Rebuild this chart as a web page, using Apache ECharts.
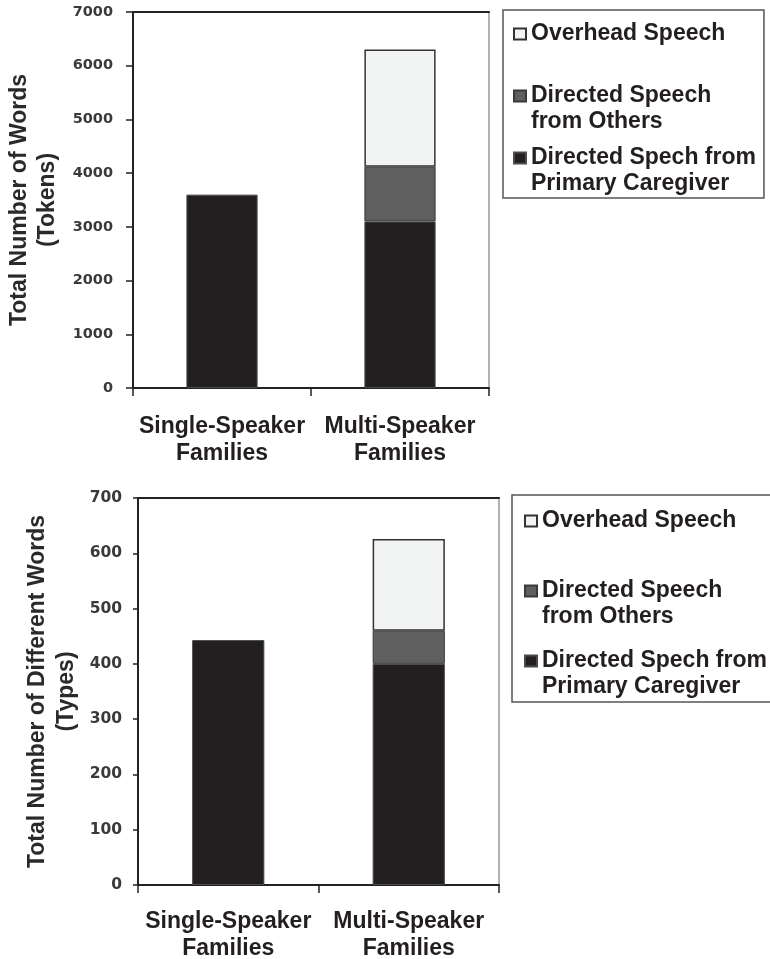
<!DOCTYPE html>
<html>
<head>
<meta charset="utf-8">
<script src="https://cdn.jsdelivr.net/npm/echarts@6/dist/echarts.min.js"></script>
<style>
  html, body { margin: 0; padding: 0; background: #ffffff; }
  #chart { width: 770px; height: 959px; }
</style>
</head>
<body>
<div id="chart"></div>
<script>
// ---------- data ----------
const categories = ['Single-Speaker\nFamilies', 'Multi-Speaker\nFamilies'];
const seriesNames = ['Directed Spech from Primary Caregiver', 'Directed Speech from Others', 'Overhead Speech'];
const legendLabels = {
  'Overhead Speech': 'Overhead Speech\n ',
  'Directed Speech from Others': 'Directed Speech\nfrom Others',
  'Directed Spech from Primary Caregiver': 'Directed Spech from\nPrimary Caregiver'
};
const legendOrder = ['Overhead Speech', 'Directed Speech from Others', 'Directed Spech from Primary Caregiver'];

// Chart 1: tokens
const tokensPrimary  = [3600, 3100];
const tokensOthers   = [null, 1020];
const tokensOverhead = [null, 2180];
const tokensMax = 7000, tokensStep = 1000;
const tokensTitle = 'Total Number of Words\n(Tokens)';

// Chart 2: types
const typesPrimary  = [443, 400];
const typesOthers   = [null, 60];
const typesOverhead = [null, 166];
const typesMax = 700, typesStep = 100;
const typesTitle = 'Total Number of Different Words\n(Types)';

// ---------- styles ----------
const FONT = '"Liberation Sans", Arial, sans-serif';
const NUMFONT = '"DejaVu Sans", Verdana, sans-serif';
const colors = {
  primary: '#231f20',
  others: '#5f5f5f',
  overhead: '#f2f3f3'
};
const styleFor = {
  'Directed Spech from Primary Caregiver': { color: colors.primary, borderColor: '#4a4a4a', borderWidth: 1 },
  'Directed Speech from Others': { color: colors.others, borderColor: '#3a3a3a', borderWidth: 1 },
  'Overhead Speech': { color: colors.overhead, borderColor: '#333333', borderWidth: 1.5 }
};
// legend icon: square on first text line (path box 12 x 52)
const legendIcon = 'path://M0,0 M12,52 M0,7.5 L12,7.5 L12,18.5 L0,18.5 Z';

const grids = [
  { left: 133, top: 12, width: 356, height: 376, outerBoundsMode: 'none', containLabel: false },
  { left: 138, top: 498, width: 361, height: 387, outerBoundsMode: 'none', containLabel: false }
];

function legendFor(left, top, padding, gap) {
  return {
    orient: 'vertical',
    left: left, top: top,
    padding: padding,
    itemGap: gap,
    itemWidth: 12,
    itemHeight: 52,
    borderColor: '#555555',
    borderWidth: 1.5,
    selectedMode: false,
    data: legendOrder.map(n => ({ name: n, icon: legendIcon })),
    formatter: n => legendLabels[n],
    textStyle: { fontFamily: FONT, fontSize: 23, fontWeight: 'bold', color: '#231f20', lineHeight: 26, padding: [0, 0, 0, 0] }
  };
}

function xAxesFor(gi, labelColor, labelMargin) {
  return [
    {
      type: 'category', gridIndex: gi, data: categories, position: 'bottom',
      axisLine: { onZero: false, lineStyle: { color: '#222222', width: 2 } },
      axisTick: { show: true, inside: false, length: 8, lineStyle: { color: '#222222', width: 1.5 } },
      axisLabel: { interval: 0, margin: labelMargin, fontFamily: FONT, fontSize: 23, fontWeight: 'bold', color: labelColor, lineHeight: 27 },
      splitLine: { show: false }
    },
    {
      type: 'category', gridIndex: gi, data: categories, position: 'top',
      axisLine: { onZero: false, lineStyle: { color: '#222222', width: 2 } },
      axisTick: { show: false }, axisLabel: { show: false }, splitLine: { show: false }
    }
  ];
}

function yAxesFor(gi, max, step, title, nameGap, tickLen, labelMargin, labelSize, titleLH) {
  return [
    {
      type: 'value', gridIndex: gi, min: 0, max: max, interval: step, position: 'left',
      name: title, nameLocation: 'middle', nameRotate: 90, nameGap: nameGap,
      nameTextStyle: { fontFamily: FONT, fontSize: 23, fontWeight: 'bold', color: '#2a2a2a', lineHeight: titleLH, align: 'center' },
      axisLine: { show: true, onZero: false, lineStyle: { color: '#222222', width: 2 } },
      axisTick: { show: true, inside: false, length: tickLen, lineStyle: { color: '#222222', width: 1.5 } },
      axisLabel: { margin: labelMargin, fontFamily: NUMFONT, fontSize: labelSize, fontWeight: 'bold', color: '#3a3a3a',
                   formatter: v => String(v) },
      splitLine: { show: false }
    },
    {
      type: 'value', gridIndex: gi, min: 0, max: max, interval: step, position: 'right',
      axisLine: { show: true, onZero: false, lineStyle: { color: '#9a9a9a', width: 1.5 } },
      axisTick: { show: false }, axisLabel: { show: false }, splitLine: { show: false }
    }
  ];
}

function seriesFor(gi, primary, others, overhead, stackName) {
  const vals = {
    'Directed Spech from Primary Caregiver': primary,
    'Directed Speech from Others': others,
    'Overhead Speech': overhead
  };
  return seriesNames.map(n => ({
    name: n, type: 'bar', stack: stackName,
    xAxisIndex: gi * 2, yAxisIndex: gi * 2,
    barWidth: '40%',
    data: vals[n],
    itemStyle: styleFor[n],
    emphasis: { disabled: true }
  }));
}

const chart = echarts.init(document.getElementById('chart'), null, { renderer: 'canvas' });
chart.setOption({
  backgroundColor: '#ffffff',
  animation: false,
  grid: grids,
  legend: [
    legendFor(503, 10, [10, 8, 0, 10], 8),
    legendFor(512, 495, [12, 8, 1, 12], 16)
  ],
  xAxis: [].concat(xAxesFor(0, '#231f20', 25), xAxesFor(1, '#231f20', 23)),
  yAxis: [].concat(
    yAxesFor(0, tokensMax, tokensStep, tokensTitle, 71, 7, 20, 14.5, 28),
    yAxesFor(1, typesMax, typesStep, typesTitle, 56.5, 5, 16, 15.5, 29)
  ),
  series: [].concat(
    seriesFor(0, tokensPrimary, tokensOthers, tokensOverhead, 'tokens'),
    seriesFor(1, typesPrimary, typesOthers, typesOverhead, 'types')
  )
});
</script>
</body>
</html>
